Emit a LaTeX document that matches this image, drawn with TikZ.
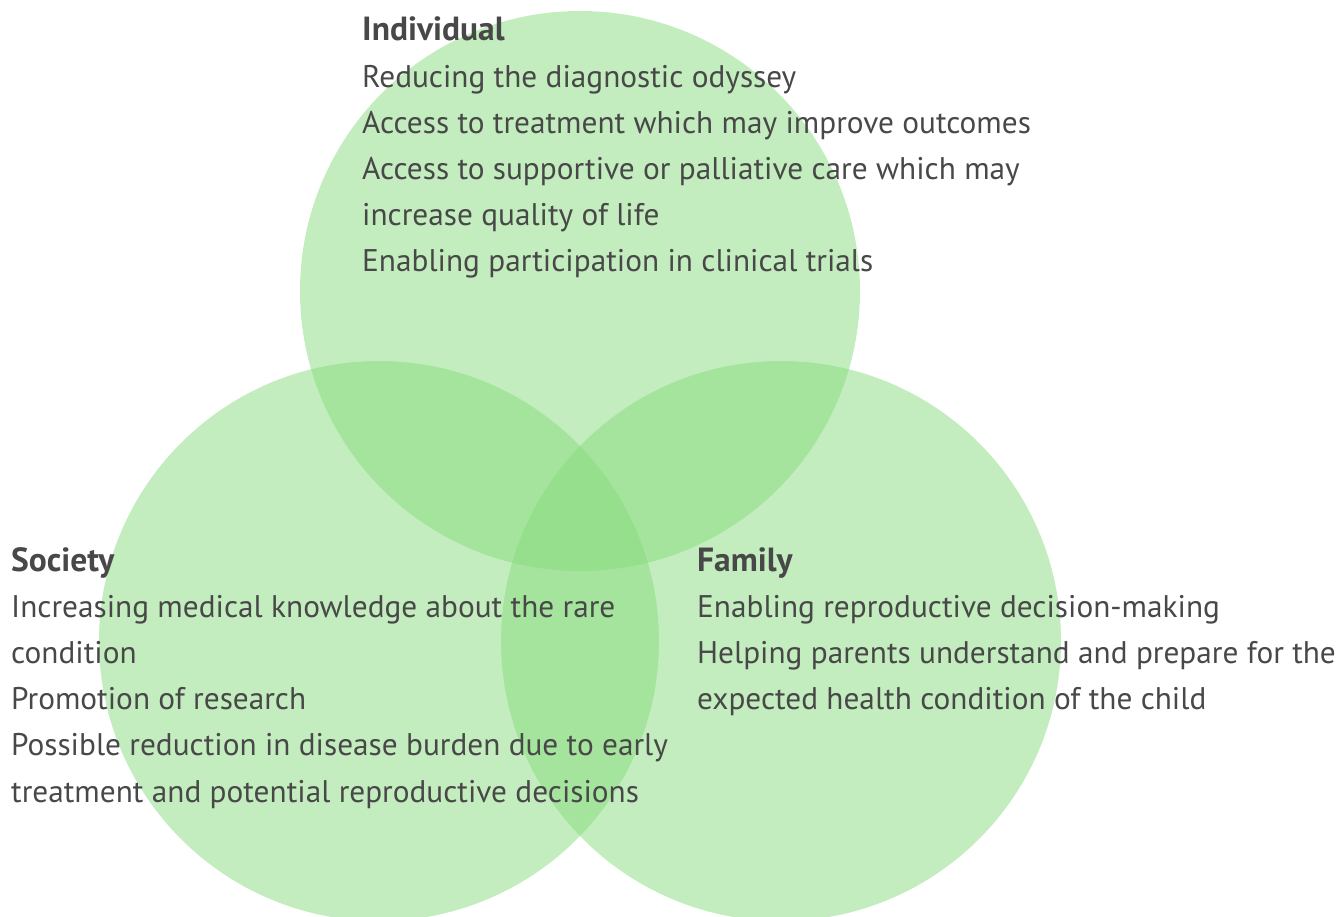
\documentclass[tikz,border=0pt]{standalone}
\usepackage{fontspec}
\setmainfont{PT Sans}
\definecolor{vennGreen}{RGB}{135,219,125}
\definecolor{inkGray}{RGB}{72,72,72}
\tikzset{
  blob/.style={circle, fill=vennGreen, fill opacity=0.5, inner sep=0pt, minimum size=560pt},
  item/.style={anchor=base west, inner sep=0pt, text=inkGray, font=\fontsize{31.3}{46}\selectfont},
  head/.style={item, font=\fontsize{33.5}{46}\selectfont\bfseries}
}
\begin{document}
\begin{tikzpicture}[x=1pt,y=-1pt]
  \useasboundingbox (0,0) rectangle (1339,917);
  \clip (0,0) rectangle (1339,917);
  % circles
  \node[blob] (indC) at (580,291) {};
  \node[blob] (socC) at (379,641) {};
  \node[blob] (famC) at (781,641) {};
  % individual
  \def\lh{46.2}
  \node[head] (indH) at (362,41) {Individual};
  \foreach \t [count=\i] in {Reducing the diagnostic odyssey,
      Access to treatment which may improve outcomes,
      Access to supportive or palliative care which may,
      increase quality of life,
      Enabling participation in clinical trials}
    \node[item] (ind\i) at (362,41+\i*\lh) {\t};
  % society
  \node[head] (socH) at (11,571) {Society};
  \foreach \t [count=\i] in {Increasing medical knowledge about the rare,
      condition,
      Promotion of research,
      Possible reduction in disease burden due to early,
      treatment and potential reproductive decisions}
    \node[item] (soc\i) at (11,571+\i*\lh) {\t};
  % family
  \node[head] (famH) at (697,571) {Family};
  \foreach \t [count=\i] in {Enabling reproductive decision-making,
      Helping parents understand and prepare for the,
      expected health condition of the child}
    \node[item] (fam\i) at (697,571+\i*\lh) {\t};
\end{tikzpicture}
\end{document}
